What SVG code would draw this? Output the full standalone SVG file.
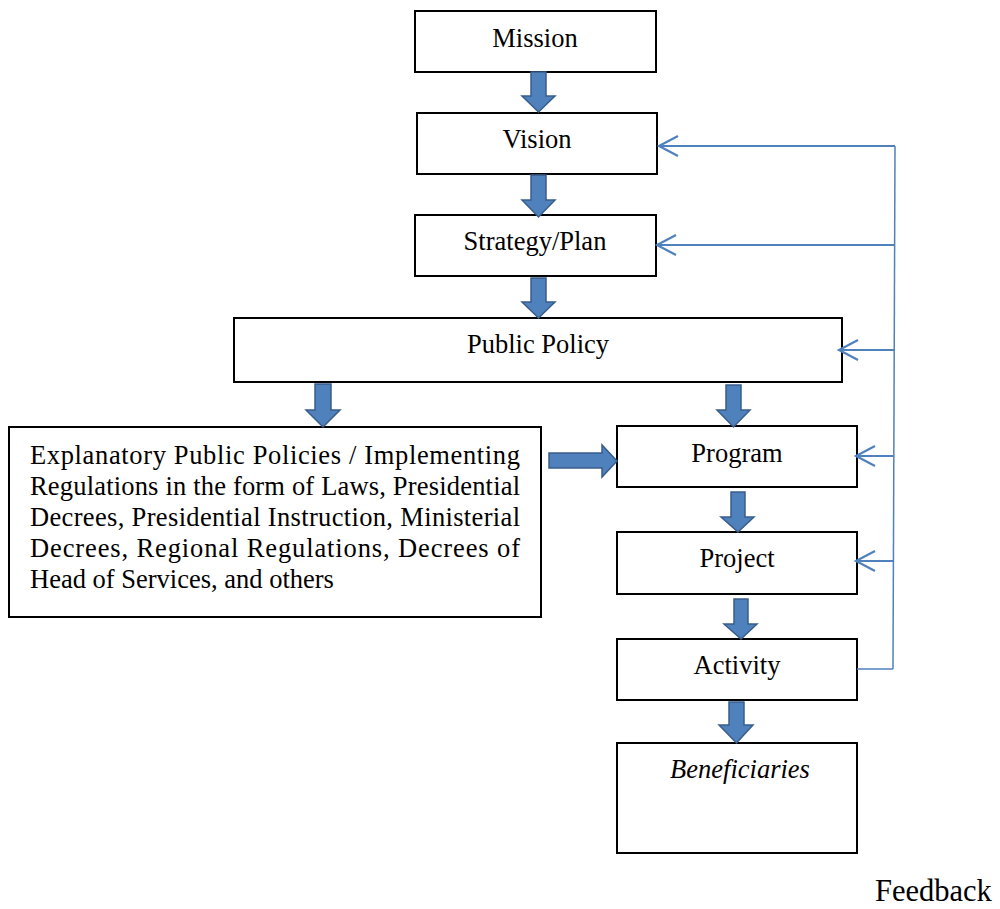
<svg xmlns="http://www.w3.org/2000/svg" width="1000" height="909" viewBox="0 0 1000 909">
<style>
.box{fill:#fff;stroke:#000;stroke-width:2}
.t{font-family:"Liberation Serif","Times New Roman",serif;font-size:26.5px;fill:#000}
.c{text-anchor:middle}
.blk{fill:#4F81BD;stroke:#385D8A;stroke-width:1.5;stroke-linejoin:miter}
.fb{fill:none;stroke:#4F81BD;stroke-width:2}
.fbv{fill:none;stroke:#4F81BD;stroke-width:1.5}
</style>
<defs>
<marker id="open" markerUnits="userSpaceOnUse" markerWidth="24" markerHeight="24" refX="20" refY="11" orient="auto" viewBox="0 0 24 22">
<polyline points="1,1 20,11 1,21" fill="none" stroke="#4F81BD" stroke-width="2.2"/>
</marker>
</defs>
<g id="mission"><rect class="box" x="415" y="11" width="241" height="61"/><text class="t c" x="535" y="47">Mission</text></g>
<g id="vision"><rect class="box" x="417" y="113" width="240" height="61"/><text class="t c" x="537" y="148">Vision</text></g>
<g id="strategy"><rect class="box" x="415" y="215" width="241" height="61"/><text class="t c" x="535" y="250">Strategy/Plan</text></g>
<g id="public-policy"><rect class="box" x="234" y="318" width="608" height="64"/><text class="t c" x="538" y="353">Public Policy</text></g>
<g id="explanatory"><rect class="box" x="9" y="427" width="532" height="190"/>
<text class="t" x="30" y="464" textLength="490" lengthAdjust="spacing">Explanatory Public Policies / Implementing</text>
<text class="t" x="30" y="495" textLength="490" lengthAdjust="spacing">Regulations in the form of Laws, Presidential</text>
<text class="t" x="30" y="526" textLength="490" lengthAdjust="spacing">Decrees, Presidential Instruction, Ministerial</text>
<text class="t" x="30" y="557" textLength="490" lengthAdjust="spacing">Decrees, Regional Regulations, Decrees of</text>
<text class="t" x="30" y="588">Head of Services, and others</text>
</g>
<g id="program"><rect class="box" x="617" y="426" width="240" height="61"/><text class="t c" x="737" y="462">Program</text></g>
<g id="project"><rect class="box" x="617" y="532" width="240" height="62"/><text class="t c" x="737" y="567">Project</text></g>
<g id="activity"><rect class="box" x="617" y="639" width="240" height="61"/><text class="t c" x="737" y="674">Activity</text></g>
<g id="beneficiaries"><rect class="box" x="617" y="743" width="240" height="110"/><text class="t c" x="740" y="778" font-style="italic">Beneficiaries</text></g>
<g id="feedback-label"><text class="t" x="875" y="901" style="font-size:30.5px">Feedback</text></g>
<g id="connectors">
<path class="blk" d="M531,72 H546 V96 H555 L538.5,112 L522,96 H531 Z"/>
<path class="blk" d="M531,175 H546 V200 H555 L538.5,217 L522,200 H531 Z"/>
<path class="blk" d="M531,278 H546 V302 H555 L538.5,318 L522,302 H531 Z"/>
<path class="blk" d="M315,384 H331 V410 H340 L323,427 L306,410 H315 Z"/>
<path class="blk" d="M726,385 H741 V410 H750 L733.5,427 L717,410 H726 Z"/>
<path class="blk" d="M731,492 H745 V517 H754 L738,532 L721,517 H731 Z"/>
<path class="blk" d="M734,599 H748 V624 H757 L741,639 L724,624 H734 Z"/>
<path class="blk" d="M729,702 H744 V725 H753 L736.5,743 L719,725 H729 Z"/>
<path class="blk" d="M549,453 H602 V445 L617,461 L602,477 V468 H549 Z"/>
<line class="fbv" x1="895" y1="146" x2="893" y2="669"/>
<line class="fb" x1="895" y1="146" x2="659" y2="146" marker-end="url(#open)"/>
<line class="fb" x1="894" y1="245" x2="657" y2="245" marker-end="url(#open)"/>
<line class="fb" x1="894" y1="350" x2="839" y2="350" marker-end="url(#open)"/>
<line class="fb" x1="893" y1="456" x2="856" y2="456" marker-end="url(#open)"/>
<line class="fb" x1="893" y1="561" x2="856" y2="561" marker-end="url(#open)"/>
<line class="fbv" x1="857" y1="669" x2="893" y2="669"/>
</g>
</svg>
